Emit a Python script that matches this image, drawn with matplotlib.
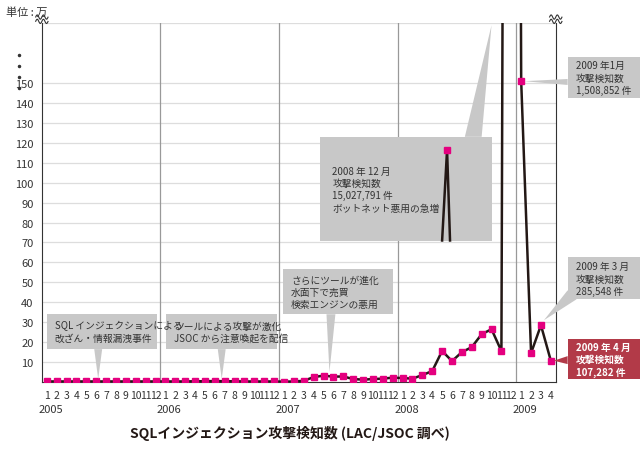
import numpy as np
import matplotlib.pyplot as plt
from matplotlib import transforms
from matplotlib.patches import Rectangle, Polygon

plt.rcParams['font.family'] = ['Noto Sans CJK JP', 'DejaVu Sans']

# --- DATA (単位: 万件) ---
YEARS = ['2005', '2006', '2007', '2008', '2009']
MONTHS_PER_YEAR = [12, 12, 12, 12, 4]
VAL_2005 = [0.3, 0.3, 0.3, 0.3, 0.3, 0.3, 0.3, 0.3, 0.3, 0.3, 0.3, 0.3]
VAL_2006 = [0.3, 0.3, 0.3, 0.4, 0.4, 0.5, 0.4, 0.4, 0.3, 0.3, 0.3, 0.3]
VAL_2007 = [0.2, 0.3, 0.6, 2.5, 3.2, 2.7, 2.8, 1.5, 1.2, 1.5, 1.7, 2.2]
VAL_2008 = [2.0, 1.7, 3.5, 5.5, 15.6, 10.5, 15.0, 17.5, 24.0, 26.5, 15.5, 1502.8]
VAL_2009 = [150.9, 14.5, 28.5, 10.7]
Y_TICKS = [10, 20, 30, 40, 50, 60, 70, 80, 90, 100, 110, 120, 130, 140, 150]
Y_TOP = 180

values = VAL_2005 + VAL_2006 + VAL_2007 + VAL_2008 + VAL_2009
x = np.arange(len(values))
PINK = '#e4007f'
BOX = '#c8c8c8'

fig = plt.figure(figsize=(6.44, 4.56), dpi=100)
ax = fig.add_axes([0.065, 0.16, 0.798, 0.787])
ax.set_xlim(-0.5, len(values) - 0.5)
ax.set_ylim(0, Y_TOP)

for t in Y_TICKS + [Y_TOP]:
    ax.axhline(t, color='#dddddd', lw=0.9, zorder=0)
start = 0
for n in MONTHS_PER_YEAR[:-1]:
    start += n
    ax.axvline(start - 0.5, color='#999999', lw=0.9, zorder=1)

ax.plot(x, values, color='#231815', lw=1.8, zorder=3)
ax.plot(x, values, ls='none', marker='s', ms=4.5, color=PINK, zorder=4)

ax.spines['top'].set_visible(False)
for s in ['left', 'right', 'bottom']:
    ax.spines[s].set_color('#333333')
ax.set_yticks(Y_TICKS)
ax.set_yticklabels([str(t) for t in Y_TICKS], fontsize=8, color='#333333')
ax.tick_params(axis='y', length=0, pad=6)
ax.set_xticks([])

# month and year labels
trans = transforms.blended_transform_factory(ax.transData, ax.transAxes)
i = 0
for yr, n in zip(YEARS, MONTHS_PER_YEAR):
    for m in range(1, n + 1):
        ax.text(i, -0.035, str(m), transform=trans, ha='center', va='center',
                fontsize=7.5, color='#333333')
        if m == 1:
            ax.text(i + 0.4, -0.075, yr, transform=trans, ha='center', va='center',
                    fontsize=8, color='#333333')
        i += 1

# dotted break marks and wave symbols
for yy in [0.91, 0.88, 0.85, 0.82]:
    ax.plot([-0.045], [yy], marker='o', ms=1.5, color='#333333',
            transform=ax.transAxes, clip_on=False)
wx = np.linspace(-0.012, 0.012, 30)
for cx in [0.0, 1.0]:
    for off in [0.0, 0.012]:
        ax.plot(cx + wx, 1.005 + off + 0.006 * np.sin(wx * 520), color='#333333', lw=0.8,
                transform=ax.transAxes, clip_on=False)

fig.text(0.01, 0.985, '単位 : 万', fontsize=8, va='top', color='#333333')

def callout(text, box, wedge, fc=BOX, color='#333333', weight='normal', tx=None):
    x0, x1, y0, y1 = box
    ax.add_patch(Rectangle((x0, y0), x1 - x0, y1 - y0, fc=fc, ec='none',
                           zorder=5, clip_on=False))
    ax.add_patch(Polygon(wedge, closed=True, fc=fc, ec='none', zorder=5, clip_on=False))
    ax.text(x0 + 0.8 if tx is None else tx, (y0 + y1) / 2, text, fontsize=7, color=color,
            weight=weight, ha='left', va='center', linespacing=1.3, zorder=6)

callout('SQL インジェクションによる\n改ざん・情報漏洩事件', (0.0, 11.1, 16.5, 34),
        [(4.8, 16.5), (5.6, 16.5), (5.2, 1.5)])
callout('ツールによる攻撃が激化\nJSOC から注意喚起を配信', (12.1, 23.3, 16.5, 34),
        [(17.3, 16.5), (18.1, 16.5), (17.7, 1.5)])
callout('さらにツールが進化\n水面下で売買\n検索エンジンの悪用', (23.9, 35.0, 34, 56.5),
        [(28.3, 34), (29.2, 34), (28.6, 5)], tx=24.7)
callout('2008 年 12 月\n攻撃検知数\n15,027,791 件\nボットネット悪用の急増', (27.6, 45.0, 70.5, 123),
        [(42.3, 123), (44.0, 123), (45.0, 179)], tx=28.9)
callout('2009 年1月\n攻撃検知数\n1,508,852 件', (52.7, 60.0, 142.5, 163),
        [(52.7, 152), (52.7, 149), (48.3, 150.9)], tx=53.5)
callout('2009 年 3 月\n攻撃検知数\n285,548 件', (52.7, 60.0, 41.5, 62.5),
        [(52.7, 46), (53.6, 41.5), (50.3, 31)], tx=53.5)
callout('2009 年 4 月\n攻撃検知数\n107,282 件', (52.7, 60.0, 1.5, 21.5),
        [(52.7, 13), (52.7, 9), (51.3, 10.7)], fc='#b23a48', color='white',
        weight='bold', tx=53.5)

# inset spike inside the 2008/12 box
ax.plot([40.0, 40.5, 40.8], [71, 116.5, 71], color='#231815', lw=1.8, zorder=7)
ax.plot([40.5], [116.5], ls='none', marker='s', ms=4.5, color=PINK, zorder=8)

fig.text(0.45, 0.04, 'SQLインジェクション攻撃検知数 (LAC/JSOC 調べ)', ha='center',
         fontsize=10, weight='bold', color='#231815')

fig.savefig('out.png', dpi=100)
